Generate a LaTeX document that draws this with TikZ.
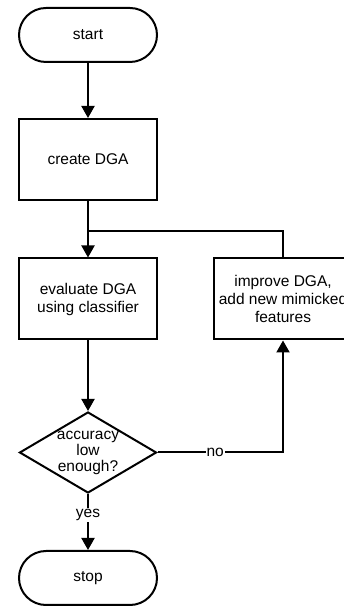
\documentclass[tikz,border=0pt]{standalone}
\usepackage{fontspec}
\setmainfont{Liberation Sans}
\usetikzlibrary{arrows.meta,shapes.geometric}

\tikzset{
  terminal/.style={draw, line width=2pt, rounded corners=27pt, minimum width=138pt, minimum height=54pt, font=\fontsize{15.5}{18}\selectfont},
  process/.style={draw, line width=2pt, minimum width=138pt, minimum height=81pt, align=center, font=\fontsize{15.5}{18}\selectfont},
  decision/.style={draw, diamond, line width=2pt, aspect=1.67, inner sep=0pt, minimum width=137pt, minimum height=81pt, align=center, font=\fontsize{15.5}{16}\selectfont},
  flowline/.style={line width=2pt, -{Triangle[width=13pt,length=12pt]}},
  lbl/.style={fill=white, inner sep=1pt, font=\fontsize{15.5}{18}\selectfont}
}

\begin{document}
\begin{tikzpicture}[x=1pt,y=1pt]
		\clip (0,0) rectangle (344,609);
		\node[terminal] (start) at (88,574) {start};
		\node[process] (create) at (88,449.5) {create DGA};
		\node[process] (evaluate) at (88,310) {evaluate DGA\\using classifier};
		\node[process] (improve) at (283,310) {improve DGA,\\add new mimicked\\features};
		\node[decision] (check) at (88,156.5) {accuracy\\low\\enough?};
		\node[terminal] (stop) at (88,31) {stop};
		\coordinate (merge) at (88,378);
		\draw[flowline] (start) -- (create);
		\draw[flowline] (create) -- (evaluate);
		\draw[line width=2pt] (improve.north) |- (merge);
		\draw[flowline] (evaluate) -- (check);
		\draw[flowline] (check.east) -| node[lbl, pos=0.23] {no} (improve.south);
		\draw[flowline] (check.south) -- node[lbl, pos=0.38] {yes} (stop.north);
	\end{tikzpicture}
\end{document}
